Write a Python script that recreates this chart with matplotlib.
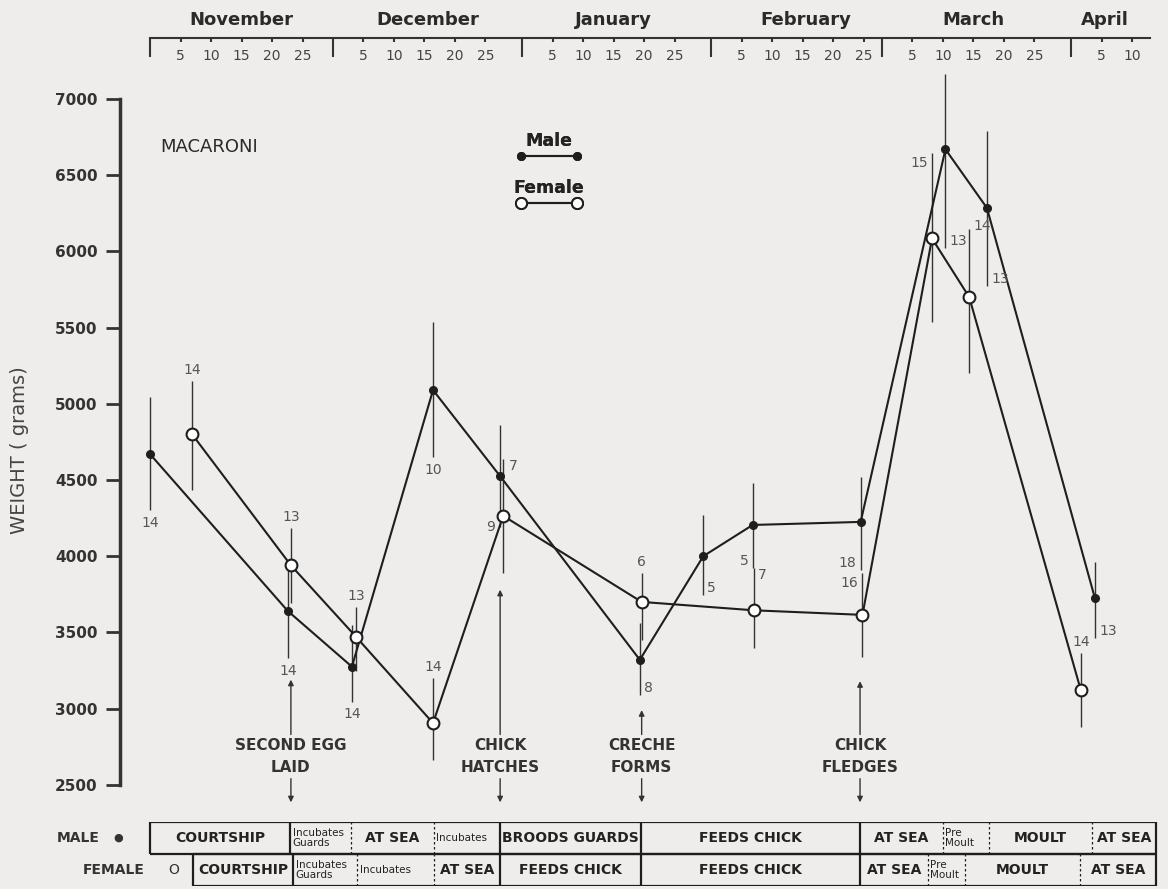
import numpy as np
import matplotlib.pyplot as plt
from matplotlib.lines import Line2D

# time axis: days counted from 1 November
month_names = ['November', 'December', 'January', 'February', 'March', 'April']
month_start = [0, 30, 61, 92, 120, 151]
month_ticks = [[5, 10, 15, 20, 25]] * 5 + [[5, 10]]
month_mid = [15, 45.5, 76, 107.5, 135, 156.5]

# Male weights (g), range of the vertical bars, sample sizes
male_day = [0, 22.6, 33.1, 46.4, 57.4, 80.3, 90.7, 98.8, 116.5, 130.4, 137.2, 154.9]
male_wt = [4670, 3640, 3275, 5090, 4525, 3320, 4000, 4205, 4225, 6670, 6285, 3725]
male_lo = [4300, 3330, 3045, 4650, 4190, 3090, 3745, 3925, 3910, 6020, 5770, 3465]
male_hi = [5045, 3960, 3550, 5535, 4860, 3560, 4270, 4480, 4520, 7165, 6790, 3960]
male_n = [14, 14, 14, 10, 7, 8, 5, 5, 18, 13, 13, 13]
male_npos = ['b', 'b', 'b', 'b', 'rp', 'rl', 'rl', 'll', 'll', 'rl', 'rl', 'rl']

# Female
female_day = [6.9, 23.1, 33.8, 46.4, 57.9, 80.6, 99.0, 116.8, 128.2, 134.3, 152.6]
female_wt = [4800, 3940, 3470, 2905, 4265, 3700, 3645, 3615, 6085, 5700, 3120]
female_lo = [4435, 3695, 3250, 2665, 3890, 3450, 3400, 3340, 5540, 5205, 2880]
female_hi = [5150, 4185, 3665, 3200, 4640, 3890, 3925, 3890, 6645, 6150, 3365]
female_n = [14, 13, 13, 14, 9, 6, 7, 16, 15, 14, 14]
female_npos = ['a', 'a', 'a', 'a', 'lp', 'a', 'rh', 'lh', 'lh', 'rc', 'a']

# events
event_day = [23.1, 57.4, 80.6, 116.4]
event_text = ['SECOND EGG\nLAID', 'CHICK\nHATCHES', 'CRECHE\nFORMS', 'CHICK\nFLEDGES']
event_tip = [3190, 3780, 2990, 3180]

# activity table
male_edges = [0, 23, 33, 46.5, 57.4, 80.5, 116.4, 130, 137.5, 154.4, 165]
male_solid = [1, 1, 0, 0, 1, 1, 1, 0, 0, 0, 1]
male_phases = ['COURTSHIP', 'Incubates\nGuards', 'AT SEA', 'Incubates', 'BROODS GUARDS',
               'FEEDS CHICK', 'AT SEA', 'Pre\nMoult', 'MOULT', 'AT SEA']
female_edges = [7, 23.5, 34, 46.5, 57.4, 80.5, 116.4, 127.5, 133.6, 152.5, 165]
female_solid = [1, 1, 0, 0, 1, 1, 1, 0, 0, 0, 1]
female_phases = ['COURTSHIP', 'Incubates\nGuards', 'Incubates', 'AT SEA', 'FEEDS CHICK',
                 'FEEDS CHICK', 'AT SEA', 'Pre\nMoult', 'MOULT', 'AT SEA']

W, H = 1168, 889
BG = '#eeedeb'
INK = '#1e1e1e'

def wt_at(p):
    # weight at pixel row p of the drawing
    return 7000 - (p - 99) * 500 / 76.2

x0, d0, pxd = 120, 150, 6.1
xlim = ((x0 - d0) / pxd, (W - d0) / pxd)

fig = plt.figure(figsize=(W / 100, H / 100), dpi=100, facecolor=BG)

# ---- main panel
ax = fig.add_axes([x0 / W, 1 - 815 / H, (W - x0) / W, (815 - 60) / H])
ax.set_facecolor('none')
ax.set_xlim(*xlim)
ax.set_ylim(wt_at(815), wt_at(60))
for s in ['top', 'right', 'bottom']:
    ax.spines[s].set_visible(False)
ax.spines['left'].set_bounds(2500, 7000)
ax.spines['left'].set_linewidth(2.5)
ax.spines['left'].set_color('#333333')
ax.set_xticks([])
ax.set_yticks(np.arange(2500, 7001, 500))
ax.tick_params(axis='y', direction='out', length=10, width=2, color='#333333',
               labelsize=11, pad=6, labelcolor='#333333')
for t in ax.get_yticklabels():
    t.set_fontweight('bold')

ax.vlines(male_day, male_lo, male_hi, color='#333333', lw=1.0, zorder=2)
ax.vlines(female_day, female_lo, female_hi, color='#333333', lw=1.0, zorder=2)
ax.plot(male_day, male_wt, '-o', color=INK, lw=1.5, ms=5.5, mfc=INK, mec=INK, zorder=3)
ax.plot(female_day, female_wt, '-o', color=INK, lw=1.5, ms=8.5, mfc='white', mec=INK,
        mew=1.5, zorder=4)

placement = {
    'b': (0, -4, 'center', 'top', 'lo'),
    'a': (0, 3, 'center', 'bottom', 'hi'),
    'rl': (3, 0, 'left', 'bottom', 'lo'),
    'rh': (3, 0, 'left', 'top', 'hi'),
    'rc': (3, 2, 'left', 'center', 'hi'),
    'll': (-3, 0, 'right', 'bottom', 'lo'),
    'lh': (-3, -2, 'right', 'top', 'hi'),
    'rp': (6, 2, 'left', 'bottom', 'pt'),
    'lp': (-6, -3, 'right', 'top', 'pt'),
}

def count_labels(days, wt, lo, hi, n, pos):
    for i in range(len(days)):
        dx, dy, ha, va, end = placement[pos[i]]
        yv = {'lo': lo[i], 'hi': hi[i], 'pt': wt[i]}[end]
        ax.annotate(str(n[i]), xy=(days[i], yv), xytext=(dx, dy), textcoords='offset points',
                    ha=ha, va=va, fontsize=10, color='#555555')

count_labels(male_day, male_wt, male_lo, male_hi, male_n, male_npos)
count_labels(female_day, female_wt, female_lo, female_hi, female_n, female_npos)

ax.text(1.6, wt_at(147), 'MACARONI', fontsize=13, color='#2a2a2a', ha='left', va='center')

for d, txt, tip in zip(event_day, event_text, event_tip):
    ax.annotate('', xy=(d, tip), xytext=(d, 2830),
                arrowprops=dict(arrowstyle='-|>', lw=1.0, color='#333333', mutation_scale=8,
                                shrinkA=0, shrinkB=0))
    ax.text(d, 2687, txt, ha='center', va='center', fontsize=11, fontweight='bold',
            color='#333333', linespacing=1.55)
    ax.annotate('', xy=(d, 2385), xytext=(d, 2540),
                arrowprops=dict(arrowstyle='-|>', lw=1.0, color='#333333', mutation_scale=8,
                                shrinkA=0, shrinkB=0))

# legend: line with a marker at each end, title above
male_h = Line2D([], [], color=INK, lw=1.5, marker='o', ms=5.5, mfc=INK, mec=INK)
female_h = Line2D([], [], color=INK, lw=1.5, marker='o', ms=8, mfc='white', mec=INK, mew=1.4)
for h, name, yc in [(male_h, 'Male', 148), (female_h, 'Female', 195)]:
    leg = fig.legend([h], [''], title=name, numpoints=2, frameon=False, loc='center',
                     bbox_to_anchor=(549 / W, 1 - yc / H), handlelength=4.6,
                     handletextpad=0, borderpad=0, labelspacing=0, fontsize=10,
                     title_fontproperties={'size': 12.5, 'weight': 'bold'})
    leg.get_title().set_color('#222222')
    fig.add_artist(leg)

fig.text(20 / W, 1 - 450 / H, 'WEIGHT ( grams)', rotation=90, ha='center', va='center',
         fontsize=14, color='#444444')

# ---- month axis on top
axt = fig.add_axes([x0 / W, 1 - 38 / H, (W - x0) / W, 0.0005])
axt.set_facecolor('none')
axt.set_xlim(*xlim)
axt.set_yticks([])
for s in ['top', 'right', 'left']:
    axt.spines[s].set_visible(False)
axt.spines['bottom'].set_bounds(0, 164)
axt.spines['bottom'].set_linewidth(1.5)
axt.spines['bottom'].set_color('#333333')
pos, lab = [], []
for m0, days in zip(month_start, month_ticks):
    for d in days:
        pos.append(m0 + d)
        lab.append(str(d))
axt.set_xticks(pos)
axt.set_xticklabels(lab)
axt.set_xticks(month_start, minor=True)
axt.tick_params(axis='x', which='major', direction='out', length=3, width=1.5,
                color='#333333', labelsize=10, pad=5, labelcolor='#444444')
axt.tick_params(axis='x', which='minor', direction='out', length=14, width=1.5,
                color='#333333')
for name, d in zip(month_names, month_mid):
    axt.annotate(name, xy=(d, 0), xycoords=('data', 'axes fraction'), xytext=(0, 13),
                 textcoords='offset points', ha='center', va='center', fontsize=13,
                 fontweight='bold', color='#2a2a2a')

# ---- activity table
axb = fig.add_axes([x0 / W, 1 - 886 / H, (W - x0) / W, (886 - 822) / H])
axb.set_xlim(*xlim)
axb.set_ylim(0, 2)
axb.axis('off')

def table_row(edges, solid, phases, y0):
    axb.hlines([y0, y0 + 1], edges[0], edges[-1], color=INK, lw=1.6)
    for e, s in zip(edges, solid):
        if s:
            axb.vlines(e, y0, y0 + 1, color=INK, lw=1.6)
        else:
            axb.vlines(e, y0, y0 + 1, color=INK, lw=0.9, linestyles=(0, (2, 2)))
    for a, b, txt in zip(edges[:-1], edges[1:], phases):
        small = txt[0].islower() or '\n' in txt or txt == 'Incubates'
        if small:
            axb.text(a + 0.4, y0 + 0.5, txt, ha='left', va='center', fontsize=7.5,
                     color='#222222', linespacing=0.95)
        else:
            axb.text((a + b) / 2, y0 + 0.5, txt, ha='center', va='center', fontsize=10,
                     fontweight='bold', color='#222222')

table_row(male_edges, male_solid, male_phases, 1)
table_row(female_edges, female_solid, female_phases, 0)

axb.text((100 - d0) / pxd, 1.5, 'MALE', ha='right', va='center', fontsize=10,
         fontweight='bold', color='#333333')
axb.text((118 - d0) / pxd, 1.5, '●', ha='center', va='center', fontsize=8, color='#333333')
axb.text((145 - d0) / pxd, 0.5, 'FEMALE', ha='right', va='center', fontsize=10,
         fontweight='bold', color='#333333')
axb.text((174 - d0) / pxd, 0.5, 'O', ha='center', va='center', fontsize=10,
         color='#333333')

fig.savefig('out.png', dpi=100, facecolor=BG)
